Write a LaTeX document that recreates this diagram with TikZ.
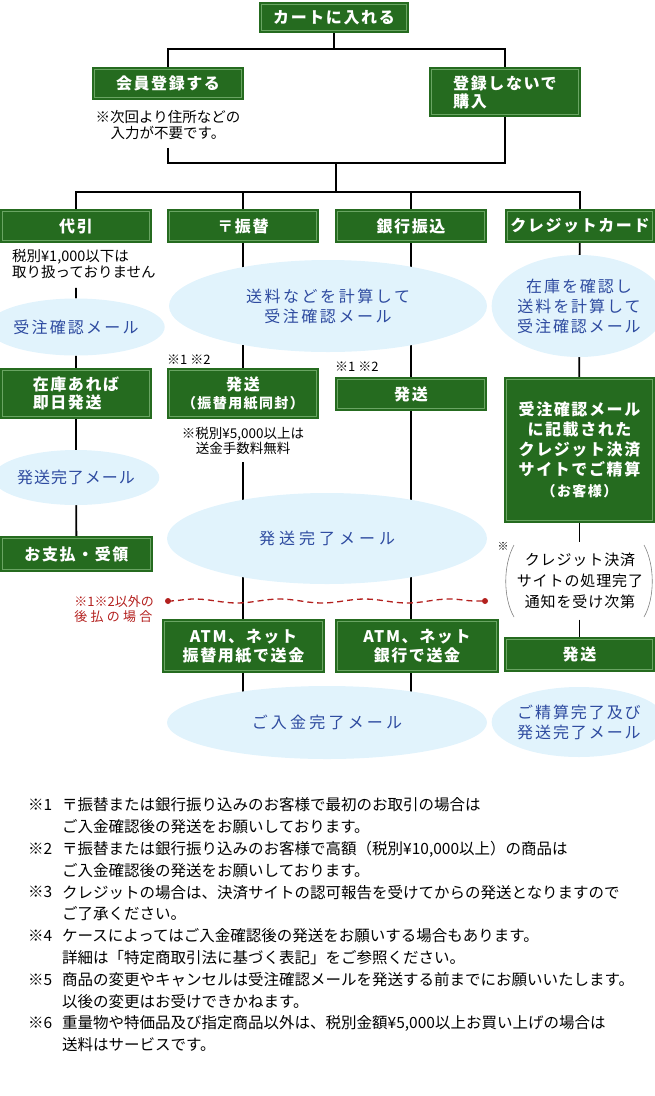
\documentclass[tikz,border=0pt]{standalone}
\usepackage{fontspec}
\setmainfont{Noto Sans CJK JP}
\usetikzlibrary{shapes.geometric,backgrounds,decorations.pathmorphing}
\definecolor{boxgreen}{HTML}{256B1F}
\definecolor{boxline}{HTML}{6AA563}
\definecolor{mailfill}{HTML}{E1F3FC}
\definecolor{mailtext}{HTML}{2E4BA0}
\definecolor{notered}{HTML}{B3201E}
\newcommand\boxfnt{\bfseries\fontsize{16bp}{18bp}\selectfont\addfontfeature{LetterSpace=10}}
\newcommand\mailfnt{\fontsize{16bp}{20bp}\selectfont\addfontfeature{LetterSpace=12}}
\newcommand\memofnt{\fontsize{14.5bp}{16bp}\selectfont}
\newcommand\footfnt{\fontsize{15.5bp}{21.8bp}\selectfont}

\begin{document}
\begin{tikzpicture}[x=1bp,y=-1bp,
	gbox/.style={rectangle,fill=boxgreen,text=white,font=\boxfnt,align=center,inner sep=0pt,
		path picture={\draw[boxline,line width=0.8bp] ([xshift=2.5bp,yshift=-2.5bp]path picture bounding box.north west) rectangle ([xshift=-2.5bp,yshift=2.5bp]path picture bounding box.south east);}},
	mail/.style={ellipse,fill=mailfill,text=mailtext,font=\mailfnt,align=center,inner sep=0pt},
	memo/.style={font=\memofnt,align=center,inner xsep=0pt},
	wire/.style={line width=1.8bp},
	fnote/.style={font=\footfnt,align=left,anchor=west,inner sep=0pt}]
	\useasboundingbox (0,0) rectangle (655,1096);
	% top part
	\node[gbox,minimum width=150bp,minimum height=31bp] (cart) at (334,17.5) {カートに入れる};
	\node[gbox,minimum width=152bp,minimum height=33bp] (member) at (168,83.5) {会員登録する};
	\node[gbox,minimum width=152bp,minimum height=50bp,align=left] (guest) at (505,92) {登録しないで\\購入};
	\node[memo,inner ysep=8bp] (memnote) at (168,125) {※次回より住所などの\\入力が不要です。};
	\coordinate (top) at (334,49);
	\coordinate (mid) at (336,163);
	\coordinate (low) at (336,192);
	% four ways to pay
	\node[gbox,minimum width=152bp,minimum height=34bp] (daibiki) at (76,226) {代引};
	\node[gbox,minimum width=152bp,minimum height=34bp] (furikae) at (243,226) {〒振替};
	\node[gbox,minimum width=152bp,minimum height=34bp] (ginkou) at (411,226) {銀行振込};
	\node[gbox,minimum width=150bp,minimum height=34bp] (credit) at (580,226) {クレジットカード};
	\node[memo,align=left,anchor=west,inner xsep=0pt,inner ysep=9bp] (dnote) at (12,264) {税別¥1,000以下は\\取り扱っておりません};
	\node[mail,minimum width=152bp,minimum height=57bp,font=\mailfnt\addfontfeature{LetterSpace=14}] (mail1) at (76,327) {受注確認メール};
	\node[mail,minimum width=318bp,minimum height=92bp,font=\mailfnt\addfontfeature{LetterSpace=16}] (calc) at (328,306) {送料などを計算して\\受注確認メール};
	\node[mail,minimum width=152bp,minimum height=102bp] (stock) at (579,306) {在庫を確認し\\送料を計算して\\受注確認メール};
	\node[font=\fontsize{13bp}{13bp}\selectfont,anchor=west,inner sep=0pt] (mark2) at (167,360) {※1 ※2};
	\node[font=\fontsize{13bp}{13bp}\selectfont,anchor=west,inner sep=0pt] (mark3) at (335,367) {※1 ※2};
	\node[gbox,minimum width=152bp,minimum height=51bp,align=left] (zaiko) at (76,393.5) {在庫あれば\\即日発送};
	\node[gbox,minimum width=152bp,minimum height=51bp] (ship2) at (243,393.5) {発送\\{\fontsize{14bp}{16bp}\selectfont（振替用紙同封）}};
	\node[gbox,minimum width=152bp,minimum height=34bp] (ship3) at (411,394) {発送};
	\node[gbox,minimum width=151bp,minimum height=146bp] (site) at (579.5,450) {受注確認メール\\[2bp]に記載された\\[2bp]クレジット決済\\[2bp]サイトでご精算\\[3bp]{\fontsize{14bp}{16bp}\selectfont（お客様）}};
	\node[memo,font=\fontsize{13.5bp}{15bp}\selectfont,inner ysep=8bp] (fee) at (243,440.5) {※税別¥5,000以上は\\送金手数料無料};
	\node[mail,minimum width=153bp,minimum height=55bp,font=\mailfnt\addfontfeature{LetterSpace=6}] (sent1) at (76,477.5) {発送完了メール};
	\node[mail,minimum width=320bp,minimum height=91bp,font=\mailfnt\addfontfeature{LetterSpace=25}] (sent2) at (327,538.5) {発送完了メール};
	\node[gbox,minimum width=153bp,minimum height=36bp] (pay) at (76.5,554) {お支払・受領};
	\node[font=\fontsize{15bp}{21bp}\selectfont\addfontfeature{LetterSpace=6},align=center,inner xsep=0pt,inner ysep=10.5bp] (settle) at (580,581) {クレジット決済\\サイトの処理完了\\通知を受け次第};
	\node[font=\fontsize{11bp}{11bp}\selectfont,inner sep=0pt] (ast) at (503,546) {※};
	\draw[gray,line width=0.6bp] (514,545) .. controls (503,565) and (503,598) .. (514,617);
	\draw[gray,line width=0.6bp] (644,545) .. controls (655,565) and (655,598) .. (644,617);
	% deferred payment
	\node[font=\fontsize{13bp}{15bp}\selectfont,text=notered,align=left,anchor=east,inner sep=0pt] (later) at (154,609.5) {※1※2以外の\\\makebox[78bp][s]{後\hfill 払\hfill の\hfill 場\hfill 合}};
	\coordinate (wl) at (168,601);
	\coordinate (wr) at (485,601);
	\node[gbox,minimum width=163bp,minimum height=54bp] (atm2) at (243.5,646) {ATM、ネット\\[1bp]振替用紙で送金};
	\node[gbox,minimum width=164bp,minimum height=54bp] (atm3) at (417,646) {ATM、ネット\\[1bp]銀行で送金};
	\node[gbox,minimum width=151bp,minimum height=35bp] (ship4) at (579.5,654.5) {発送};
	\node[mail,minimum width=320bp,minimum height=73bp,font=\mailfnt\addfontfeature{LetterSpace=20}] (paid) at (327,722.5) {ご入金完了メール};
	\node[mail,minimum width=148bp,minimum height=70bp] (done) at (579,722) {ご精算完了及び\\発送完了メール};
	\draw[notered,line width=1.3bp,dash pattern=on 6bp off 4bp,decorate,decoration={snake,amplitude=2bp,segment length=85bp}] (wl) -- (wr);
	\fill[notered] (wl) circle (3bp) (wr) circle (3bp);
	% connectors
	\begin{pgfonlayer}{background}
		\draw[wire] (cart) -- (top);
		\draw[wire] (member) |- (top) -| (guest);
		\draw[wire] (member |- memnote.south) |- (mid) -| (guest);
		\draw[wire] (mid) -- (low);
		\draw[wire] (daibiki) |- (low) -| (credit);
		\draw[wire] (furikae) -- (furikae |- low);
		\draw[wire] (ginkou) -- (ginkou |- low);
		\draw[wire] (daibiki |- dnote.south) -- (mail1) -- (zaiko) -- (sent1) -- (pay);
		\draw[wire] (furikae) -- (ship2);
		\draw[wire] (ship2 |- fee.south) -- (ship2 |- atm2.north);
		\draw[wire] (ship2 |- atm2.south) -- (ship2 |- paid);
		\draw[wire] (ginkou) -- (ship3);
		\draw[wire] (ship3) -- (ship3 |- atm3.north);
		\draw[wire] (ship3 |- atm3.south) -- (ship3 |- paid);
		\draw[wire] (credit) -- (stock) -- (site);
		\draw[wire] (site) -- (site |- settle.north);
		\draw[wire] (site |- settle.south) -- (ship4);
	\end{pgfonlayer}
	% notes
	\node[fnote] (m1) at (28,805) {※1};
	\node[fnote] (n1) at (62,815.9) {〒振替または銀行振り込みのお客様で最初のお取引の場合は\\ご入金確認後の発送をお願いしております。};
	\node[fnote] (m2) at (28,848.6) {※2};
	\node[fnote] (n2) at (62,859.5) {〒振替または銀行振り込みのお客様で高額（税別¥10,000以上）の商品は\\ご入金確認後の発送をお願いしております。};
	\node[fnote] (m3) at (28,892.2) {※3};
	\node[fnote] (n3) at (62,903.1) {クレジットの場合は、決済サイトの認可報告を受けてからの発送となりますので\\ご了承ください。};
	\node[fnote] (m4) at (28,935.8) {※4};
	\node[fnote] (n4) at (62,946.7) {ケースによってはご入金確認後の発送をお願いする場合もあります。\\詳細は「特定商取引法に基づく表記」をご参照ください。};
	\node[fnote] (m5) at (28,979.4) {※5};
	\node[fnote] (n5) at (62,990.3) {商品の変更やキャンセルは受注確認メールを発送する前までにお願いいたします。\\以後の変更はお受けできかねます。};
	\node[fnote] (m6) at (28,1023) {※6};
	\node[fnote] (n6) at (62,1033.9) {重量物や特価品及び指定商品以外は、税別金額¥5,000以上お買い上げの場合は\\送料はサービスです。};
\end{tikzpicture}
\end{document}
